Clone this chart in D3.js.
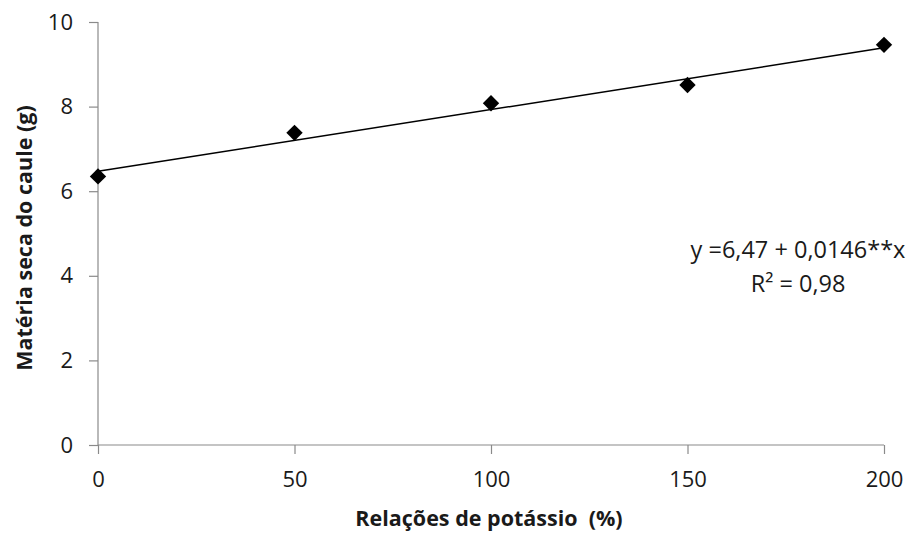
<!DOCTYPE html>
<html>
<head>
<meta charset="utf-8">
<script src="https://cdn.jsdelivr.net/npm/d3@7"></script>
<style>
  body { margin: 0; background: #fff; }
  text { font-family: "Open Sans", "Liberation Sans", sans-serif; }
</style>
</head>
<body>
<div id="chart"></div>
<script>
// data
var doses = [0, 50, 100, 150, 200]
var massa = [6.35, 7.38, 8.08, 8.51, 9.46]
var xTicks = [0, 50, 100, 150, 200]
var yTicks = [0, 2, 4, 6, 8, 10]
var fit = { a: 6.47, b: 0.0146 }

var width = 912, height = 533
var margin = {top: 22, right: 28, bottom: 88, left: 98}

var svg = d3.select("#chart").append("svg")
    .attr("width", width)
    .attr("height", height)

var x = d3.scaleLinear().domain([0, 200]).range([margin.left, width - margin.right])
var y = d3.scaleLinear().domain([0, 10]).range([height - margin.bottom, margin.top])

// axes
var yAxis = svg.append("g")
    .attr("transform", "translate(" + margin.left + ",0)")
    .call(d3.axisLeft(y).tickValues(yTicks).tickSize(9).tickPadding(16))
var xAxis = svg.append("g")
    .attr("transform", "translate(0," + y(0) + ")")
    .call(d3.axisBottom(x).tickValues(xTicks).tickSize(9).tickPadding(17))

;[xAxis, yAxis].forEach(function (g) {
  g.select(".domain").attr("stroke", "#8a8a8a").attr("stroke-width", 1.2)
  g.selectAll(".tick line").attr("stroke", "#8a8a8a").attr("stroke-width", 1.2)
  g.selectAll(".tick text")
    .attr("fill", "#1a1a1a")
    .style("font-size", "22px")
    .style("font-family", "'Open Sans', sans-serif")
})
yAxis.selectAll(".domain").attr("d", "M0," + y(10) + "V" + y(0))
xAxis.selectAll(".domain").attr("d", "M" + x(0) + ",0H" + x(200))

// trend line
svg.append("line")
    .attr("x1", x(0)).attr("y1", y(fit.a))
    .attr("x2", x(200)).attr("y2", y(fit.a + fit.b * 200))
    .attr("stroke", "#000")
    .attr("stroke-width", 1.5)

// points
svg.selectAll(".pt")
    .data(doses)
  .enter().append("path")
    .attr("class", "pt")
    .attr("d", d3.symbol().type(d3.symbolDiamond2).size(170))
    .attr("transform", function (d, i) { return "translate(" + x(d) + "," + y(massa[i]) + ")" })
    .attr("fill", "#000")

// equation
var eq = svg.append("text")
    .attr("text-anchor", "middle")
    .attr("fill", "#1a1a1a")
    .style("font-size", "23.5px")
eq.append("tspan").attr("x", 798).attr("y", 258).text("y =6,47 + 0,0146**x")
eq.append("tspan").attr("x", 798).attr("y", 292).text("R² = 0,98")

// axis titles
svg.append("text")
    .attr("x", 489).attr("y", 526)
    .attr("text-anchor", "middle")
    .style("font-size", "21.5px").style("font-weight", "bold")
    .style("white-space", "pre")
    .attr("fill", "#1a1a1a")
    .text("Relações de potássio  (%)")

svg.append("text")
    .attr("transform", "translate(32," + 238 + ") rotate(-90)")
    .attr("text-anchor", "middle")
    .style("font-size", "21.5px").style("font-weight", "bold")
    .attr("fill", "#1a1a1a")
    .text("Matéria seca do caule (g)")
</script>
</body>
</html>
